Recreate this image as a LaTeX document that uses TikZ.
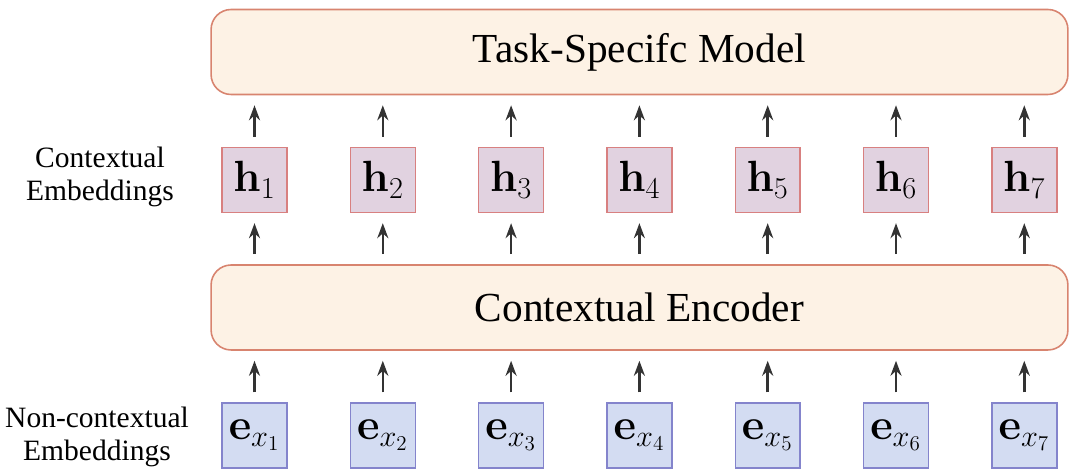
\documentclass[tikz,border=0pt]{standalone}
\usepackage[no-math]{fontspec}
\setmainfont{Liberation Serif}
\usetikzlibrary{arrows.meta}

\definecolor{peachfill}{HTML}{FDF2E5}
\definecolor{peachline}{HTML}{D8846F}
\definecolor{hfill}{HTML}{E1D2E0}
\definecolor{hline}{HTML}{D88080}
\definecolor{efill}{HTML}{D3DCF2}
\definecolor{eline}{HTML}{8484CC}
\definecolor{arrowgray}{HTML}{333333}

\begin{document}
\begin{tikzpicture}[x=0.02cm, y=-0.02cm,
	bigbox/.style = {draw=peachline, fill=peachfill, line width=0.9pt,
		rounded corners=0.4cm, minimum width=17.14cm, minimum height=1.7cm,
		font=\fontsize{23.5}{28}\selectfont},
	hbox/.style = {draw=hline, fill=hfill, line width=0.8pt,
		minimum width=1.3cm, minimum height=1.3cm, inner sep=0pt,
		font=\fontsize{23}{28}\selectfont},
	ebox/.style = {draw=eline, fill=efill, line width=0.8pt,
		minimum width=1.3cm, minimum height=1.3cm, inner sep=0pt,
		font=\fontsize{23}{28}\selectfont},
	sidelabel/.style = {align=center, font=\fontsize{16.8}{19}\selectfont},
	uparrow/.style = {draw=arrowgray, line width=1.4pt,
		-{Stealth[length=0.3cm, width=0.22cm]},
		shorten <=0.2cm, shorten >=0.2cm}]
	\useasboundingbox (0,0) rectangle (1080,475);
	% model and encoder
	\node[bigbox] (model) at (639.5,52) {Task-Specifc Model};
	\node[bigbox] (encoder) at (639.5,307.5) {Contextual Encoder};
	% side labels
	\node[sidelabel] (ctxlabel) at (100,177) {Contextual\\Embeddings};
	\node[sidelabel] (nonctxlabel) at (97,437) {Non-contextual\\Embeddings};
	% embeddings
	\foreach \i in {1,...,7} {
		\node[hbox] (h\i) at ({254.5+128.3*(\i-1)},180) {$\mathbf{h}_{\i}$};
		\node[ebox] (e\i) at ({254.5+128.3*(\i-1)},435.5) {$\mathbf{e}_{x_{\i}}$};
		\draw[uparrow] (e\i.north) -- (encoder.south -| e\i.north);
		\draw[uparrow] (encoder.north -| h\i.south) -- (h\i.south);
		\draw[uparrow] (h\i.north) -- (model.south -| h\i.north);
	}
\end{tikzpicture}
\end{document}
